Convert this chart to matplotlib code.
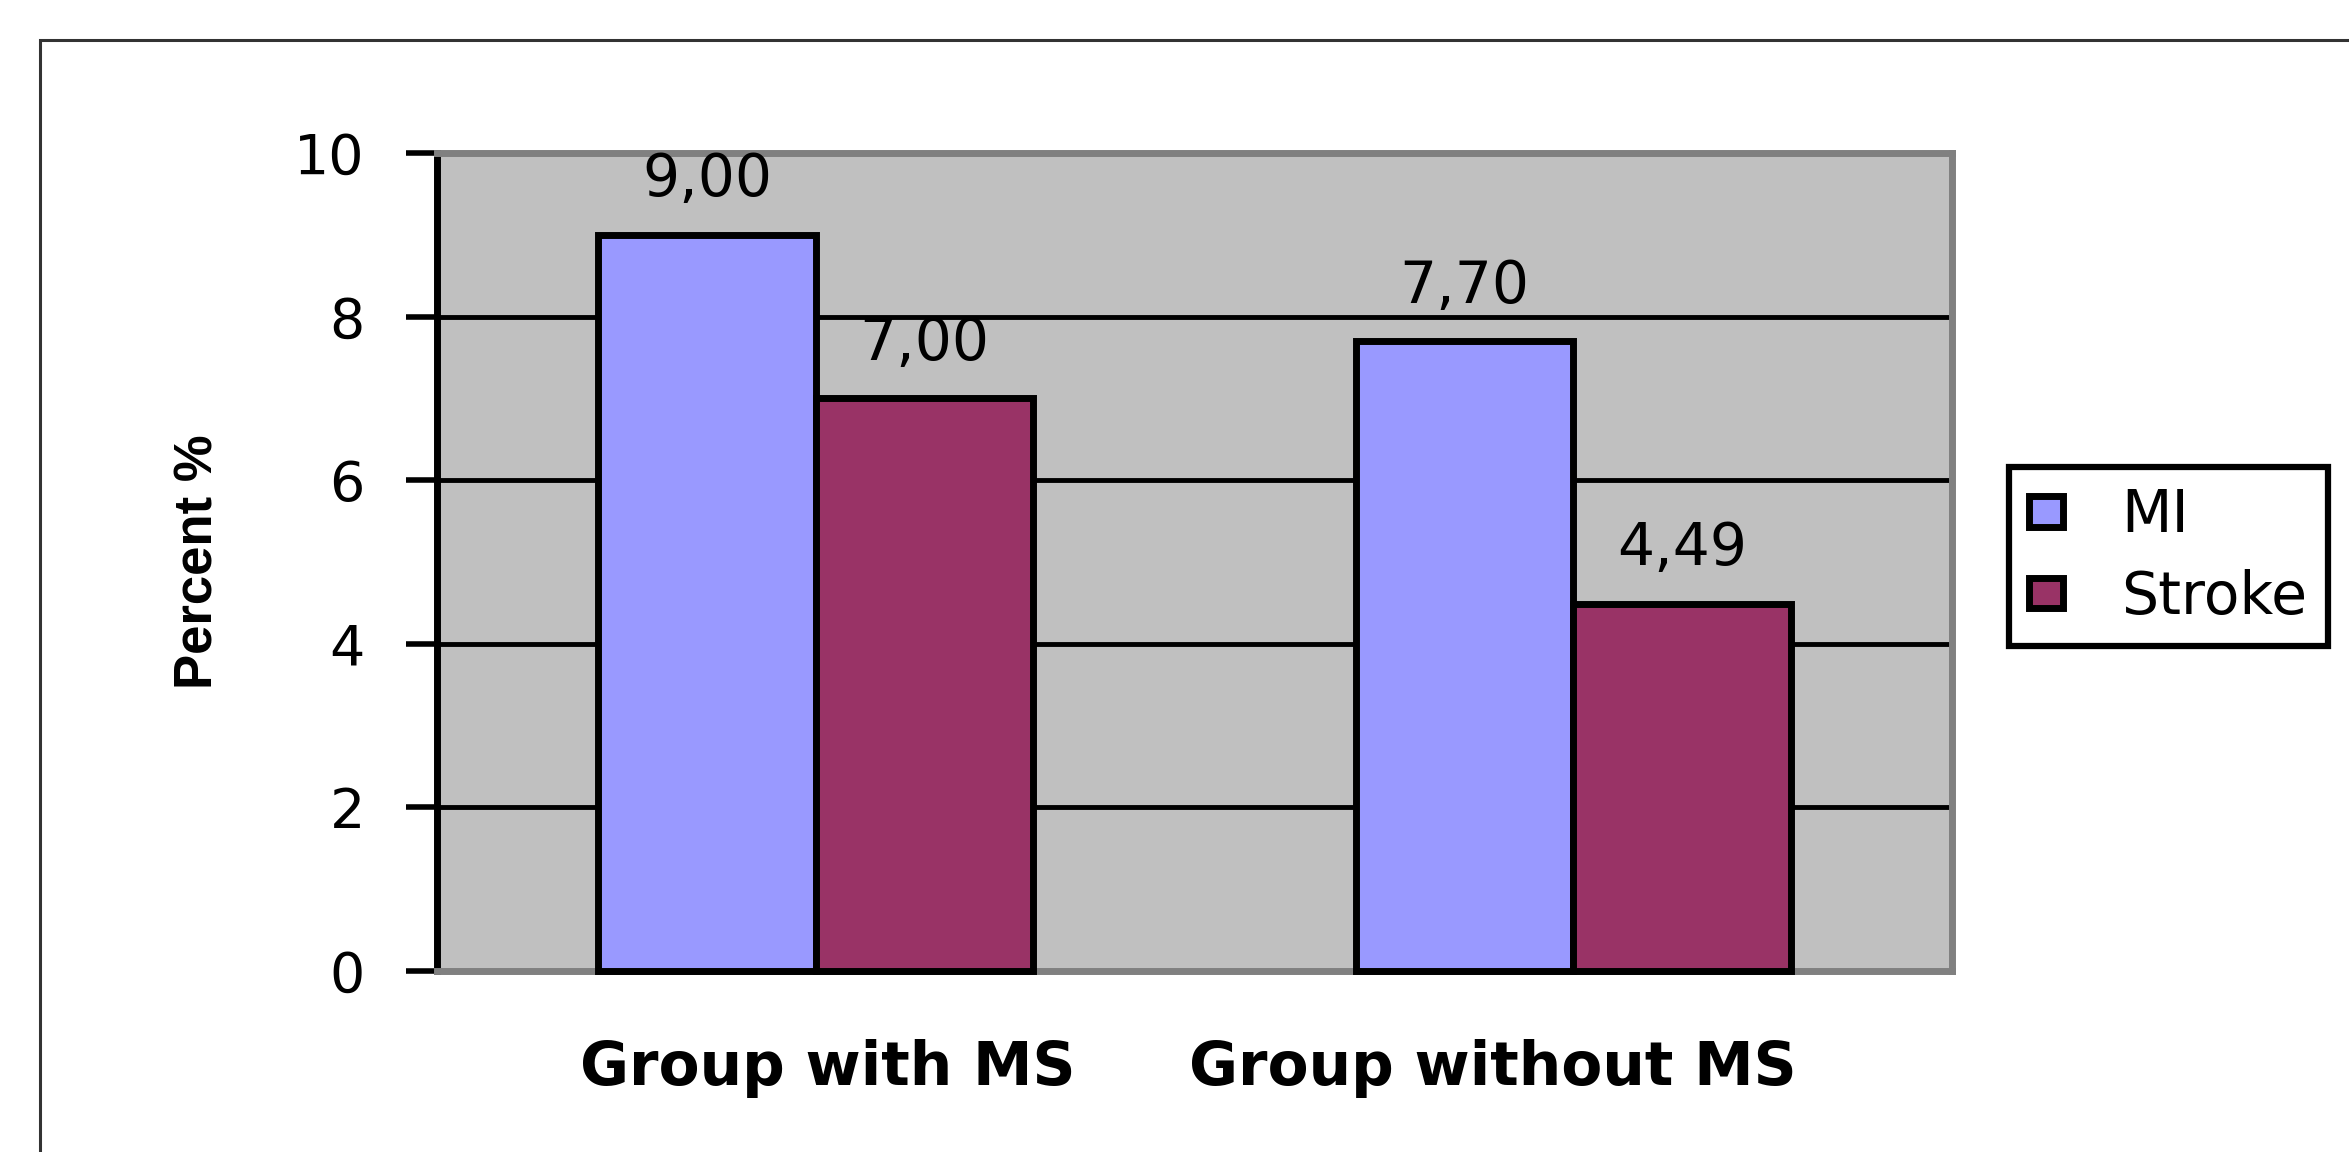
import matplotlib
matplotlib.use("Agg")
import matplotlib.pyplot as plt
import matplotlib.patches as patches
import matplotlib.transforms as mtransforms
import numpy as np

plt.rcParams['font.family'] = ['DejaVu Sans']

groups = ["Group with MS", "Group without MS"]
series_names = ["MI", "Stroke"]
mi_values = [9.00, 7.70]
stroke_values = [7.00, 4.49]
series_colors = ["#9999FF", "#993366"]
y_ticks = [0, 2, 4, 6, 8, 10]

W, H = 2349, 1152
fig = plt.figure(figsize=(W / 100, H / 100), dpi=100)
fig.patch.set_facecolor("white")

# outer chart border (runs off the right and bottom edge)
fig.patches.append(patches.Rectangle((40 / W, -0.2), 1.2, 1.2 - 40 / H,
                                     transform=fig.transFigure, fill=False,
                                     edgecolor="#333333", linewidth=2.2))

ax = fig.add_axes([437 / W, 1 - 971 / H, (1952 - 437) / W, (971 - 153) / H])
ax.set_facecolor("#C0C0C0")

x = np.arange(len(groups))
bw = 0.287
for i, (vals, name, col) in enumerate(zip([mi_values, stroke_values], series_names, series_colors)):
    offs = (i - 0.5) * bw
    b = ax.bar(x + offs, vals, bw, color=col, edgecolor="black", linewidth=5,
               label=name, zorder=3, clip_on=False)
    ax.bar_label(b, labels=[f"{v:.2f}".replace(".", ",") for v in vals],
                 padding=19, fontsize=42)

ax.set_xlim(-0.5, len(groups) - 0.5)
ax.set_ylim(0, 10)
ax.set_yticks(y_ticks)
ax.set_xticks(x)
ax.set_xticklabels(groups, fontsize=43, fontweight="bold")
ax.tick_params(axis="x", length=0, pad=49)
ax.tick_params(axis="y", length=22, width=4, pad=30, labelsize=40, direction="out")

# Excel nudged the category labels a little
label_shift = [12, -80]
for lab, dx in zip(ax.get_xticklabels(), label_shift):
    lab.set_transform(lab.get_transform() +
                      mtransforms.ScaledTranslation(dx / 100, 0, fig.dpi_scale_trans))

ax.set_axisbelow(True)
ax.yaxis.grid(True, color="black", linewidth=3.5)
ax.xaxis.grid(False)

for s in ["top", "right", "bottom"]:
    ax.spines[s].set_color("#808080")
    ax.spines[s].set_linewidth(5)
ax.spines["left"].set_color("black")
ax.spines["left"].set_linewidth(5)

ax.set_ylabel("Percent %", fontsize=38, fontweight="bold", family="Liberation Sans")
ax.yaxis.set_label_coords(-0.141, 0.5)

leg = ax.legend(loc="upper left", bbox_to_anchor=(2009 / W, 1 - 467 / H),
                bbox_transform=fig.transFigure, borderaxespad=0, fontsize=42,
                frameon=True, fancybox=False, framealpha=1, edgecolor="black",
                handlelength=0.58, handleheight=0.43, handletextpad=1.0,
                labelspacing=0.42, borderpad=0.35)
leg.get_frame().set_linewidth(4.5)

fig.savefig("out.png", dpi=100, facecolor="white")
